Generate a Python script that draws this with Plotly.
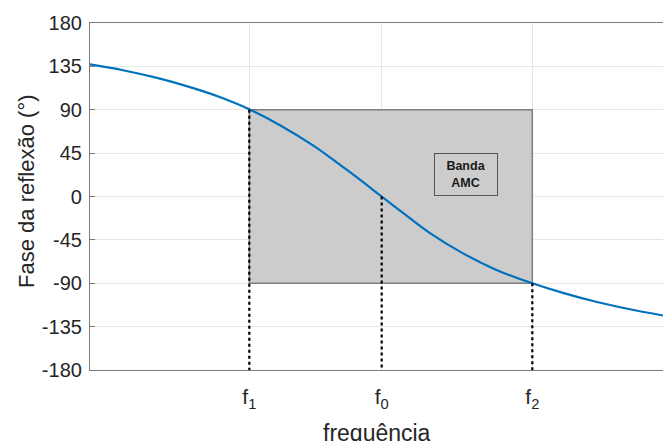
import plotly.graph_objects as go

# Frequency axis (arbitrary normalised units) and reflection phase
freq = [0.00, 0.33, 0.67, 1.00, 1.33, 1.593, 1.90, 2.23, 2.57, 2.917,
        3.13, 3.40, 3.73, 4.07, 4.423, 4.73, 5.07, 5.40, 5.73]
phase = [137, 131, 123, 113.5, 102, 90.5, 74, 53, 27.5, 0,
         -17, -38, -59, -76.5, -90, -100, -109.5, -117, -123.5]

# Marked frequencies
f_marks = [1.593, 2.917, 4.423]
f_labels = ["f<sub>1</sub>", "f<sub>0</sub>", "f<sub>2</sub>"]
f_phase = [90, 0, -90]

y_ticks = [-180, -135, -90, -45, 0, 45, 90, 135, 180]
y_labels = ["-180", "-135", "-90", "-45", "0", "45", "90", "135", "180"]

band_x = [f_marks[0], f_marks[2]]
band_y = [-90, 90]
band_label = "Banda<br>AMC"
band_label_pos = (3.76, 23)

FONT = "Liberation Sans, Arial, sans-serif"
TXT = "#262626"

fig = go.Figure()

fig.add_trace(go.Scatter(x=freq, y=phase, mode="lines",
                         line=dict(color="#0072BD", width=2.2, shape="spline", smoothing=1.0),
                         showlegend=False, hoverinfo="skip"))

for fx, fy in zip(f_marks, f_phase):
    fig.add_trace(go.Scatter(x=[fx, fx], y=[fy, -180], mode="lines",
                             line=dict(color="black", width=2.2, dash="dot"),
                             showlegend=False, hoverinfo="skip"))

fig.add_shape(type="rect", x0=band_x[0], x1=band_x[1], y0=band_y[0], y1=band_y[1],
              xref="x", yref="y", fillcolor="#cccccc", line=dict(color="#7f7f7f", width=1.5),
              layer="between")

fig.add_annotation(x=band_label_pos[0], y=band_label_pos[1], xref="x", yref="y", text=band_label,
                   showarrow=False, font=dict(family=FONT, size=12.5, color="#1a1a1a", weight="bold"),
                   bgcolor="#cccccc", bordercolor="#555555", borderwidth=1, borderpad=4,
                   width=54, height=33, align="center")

fig.add_annotation(x=-0.11, y=0.516, xref="paper", yref="paper", text="Fase da reflexão (°)",
                   xanchor="center", yanchor="middle",
                   textangle=-90, showarrow=False, font=dict(family=FONT, size=22, color=TXT))
fig.add_annotation(x=0.5, y=-0.138, xref="paper", yref="paper", text="frequência",
                   xanchor="center", yanchor="top",
                   showarrow=False, font=dict(family=FONT, size=23, color=TXT))

fig.update_layout(
    width=663, height=441,
    margin=dict(l=90, r=0, t=23, b=71),
    paper_bgcolor="white", plot_bgcolor="white",
    font=dict(family=FONT, color=TXT),
    xaxis=dict(range=[0, 5.73], tickvals=f_marks, ticktext=f_labels, showgrid=True, gridcolor="#e6e6e6",
               gridwidth=1, zeroline=False, showline=True, linecolor="#7a7a7a", linewidth=1.2, mirror=True,
               ticks="", tickfont=dict(size=21, color=TXT, family=FONT), ticklabelstandoff=8),
    yaxis=dict(range=[-180, 180], tickvals=y_ticks, ticktext=y_labels, showgrid=True, gridcolor="#e6e6e6",
               gridwidth=1, zeroline=False, showline=True, linecolor="#7a7a7a", linewidth=1.2, mirror=False,
               ticks="inside", ticklen=5, tickcolor="#7a7a7a", ticklabelstandoff=3,
               tickfont=dict(size=20, color=TXT, family=FONT)),
)

fig.write_html("out.html")
